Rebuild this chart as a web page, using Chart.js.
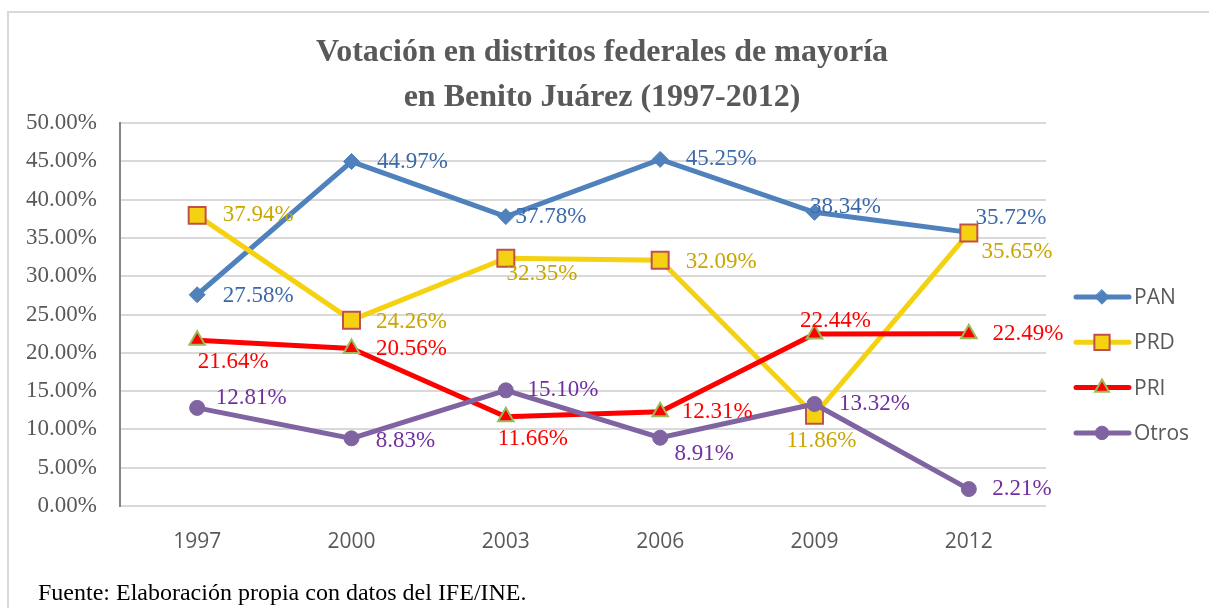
<!DOCTYPE html>
<html>
<head>
<meta charset="utf-8">
<script src="https://cdn.jsdelivr.net/npm/chart.js@4"></script>
<style>
html, body { margin: 0; padding: 0; background: #fff; overflow: hidden; }
canvas { display: block; }
</style>
</head>
<body>
<canvas id="myChart" width="1209" height="608"></canvas>
<script>
// datos
const years = ['1997', '2000', '2003', '2006', '2009', '2012'];
const pan = [27.58, 44.97, 37.78, 45.25, 38.34, 35.72];
const prd = [37.94, 24.26, 32.35, 32.09, 11.86, 35.65];
const pri = [21.64, 20.56, 11.66, 12.31, 22.44, 22.49];
const otros = [12.81, 8.83, 15.10, 8.91, 13.32, 2.21];
const yMax = 50;
const yStep = 5;

// decalage des etiquettes (centre du texte par rapport au point)
const labelOffsets = [
    [[61, 1], [61, 0], [45, 0], [61, 0], [31, -5], [42, -14]],
    [[61, 0], [60, 2], [36, 16], [61, 2], [7, 26], [48, 19]],
    [[36, 22], [60, 0], [27, 22], [57, 0], [21, -13], [59, 0]],
    [[54, -10], [54, 3], [57, 0], [44, 16], [60, 0], [53, 0]]
];
const labelColors = ['#3C69A8', '#C9A600', '#FF0000', '#7030A0'];

const serif = '"Liberation Serif", "Times New Roman", serif';
const sans = '"Open Sans", "Liberation Sans", sans-serif';

function marker(ctx, style, x, y) {
    ctx.save();
    ctx.beginPath();
    if (style.type === 'rectRot') {
        const r = style.radius;
        ctx.moveTo(x, y - r); ctx.lineTo(x + r, y); ctx.lineTo(x, y + r); ctx.lineTo(x - r, y);
        ctx.closePath();
    } else if (style.type === 'rect') {
        const s = style.radius * Math.SQRT1_2;
        ctx.rect(x - s, y - s, 2 * s, 2 * s);
    } else if (style.type === 'triangle') {
        const r = style.radius;
        ctx.moveTo(x, y - r);
        ctx.lineTo(x + r * Math.sin(2 * Math.PI / 3), y - r * Math.cos(2 * Math.PI / 3));
        ctx.lineTo(x + r * Math.sin(4 * Math.PI / 3), y - r * Math.cos(4 * Math.PI / 3));
        ctx.closePath();
    } else {
        ctx.arc(x, y, style.radius, 0, Math.PI * 2);
    }
    ctx.fillStyle = style.fill;
    ctx.fill();
    ctx.lineWidth = style.borderWidth;
    ctx.strokeStyle = style.border;
    ctx.stroke();
    ctx.restore();
}

const extras = {
    id: 'extras',
    beforeDraw(chart) {
        const ctx = chart.ctx;
        ctx.save();
        ctx.fillStyle = '#fff';
        ctx.fillRect(0, 0, chart.width, chart.height);
        ctx.strokeStyle = '#d9d9d9';
        ctx.lineWidth = 2;
        ctx.strokeRect(8, 12, 1300, 700);
        ctx.restore();
    },
    afterDatasetsDraw(chart) {
        const ctx = chart.ctx;
        ctx.save();
        ctx.font = '23px ' + serif;
        ctx.textAlign = 'center';
        ctx.textBaseline = 'middle';
        chart.data.datasets.forEach((ds, i) => {
            const meta = chart.getDatasetMeta(i);
            meta.data.forEach((pt, j) => {
                const off = labelOffsets[i][j];
                ctx.fillStyle = labelColors[i];
                ctx.fillText(ds.data[j].toFixed(2) + '%', pt.x + off[0], pt.y + off[1]);
            });
        });
        ctx.restore();
    },
    afterDraw(chart) {
        const ctx = chart.ctx;
        ctx.save();
        // titre
        ctx.fillStyle = '#595959';
        ctx.font = 'bold 32px ' + serif;
        ctx.textAlign = 'center';
        ctx.textBaseline = 'middle';
        ctx.fillText('Votación en distritos federales de mayoría', 602, 53);
        ctx.fillText('en Benito Juárez (1997-2012)', 602, 98);
        // legende
        chart.data.datasets.forEach((ds, i) => {
            const y = 297 + i * 45.3;
            ctx.strokeStyle = ds.borderColor;
            ctx.lineWidth = 5;
            ctx.lineCap = 'round';
            ctx.beginPath();
            ctx.moveTo(1076, y);
            ctx.lineTo(1129, y);
            ctx.stroke();
            marker(ctx, {
                type: ds.pointStyle, radius: ds.pointRadius * 0.9,
                fill: ds.pointBackgroundColor, border: ds.pointBorderColor,
                borderWidth: ds.pointBorderWidth
            }, 1102, y);
            ctx.fillStyle = '#595959';
            ctx.font = '21px ' + sans;
            ctx.textAlign = 'left';
            ctx.fillText(ds.label, 1134, y + 1);
        });
        // source
        ctx.fillStyle = '#000';
        ctx.font = '24px ' + serif;
        ctx.textAlign = 'left';
        ctx.fillText('Fuente: Elaboración propia con datos del IFE/INE.', 38, 594);
        ctx.restore();
    }
};

function serie(label, data, color, style, radius, fill, border, bw, order) {
    return {
        label: label,
        data: data,
        borderColor: color,
        backgroundColor: color,
        borderWidth: 5,
        tension: 0,
        pointStyle: style,
        pointRadius: radius,
        pointHoverRadius: radius,
        pointBackgroundColor: fill,
        pointBorderColor: border,
        pointBorderWidth: bw,
        order: order
    };
}

var ctx = document.getElementById('myChart').getContext('2d');
var myChart = new Chart(ctx, {
    type: 'line',
    data: {
        labels: years,
        datasets: [
            serie('PAN', pan, '#4F81BD', 'rectRot', 8, '#4F81BD', '#4F81BD', 1, 4),
            serie('PRD', prd, '#F5D211', 'rect', 12, '#F5D211', '#C0504D', 2, 3),
            serie('PRI', pri, '#FF0000', 'triangle', 9, '#FF0000', '#9BBB59', 2, 2),
            serie('Otros', otros, '#8064A2', 'circle', 7.5, '#8064A2', '#8064A2', 1, 1)
        ]
    },
    options: {
        responsive: false,
        animation: false,
        devicePixelRatio: 1,
        layout: { padding: { left: 0, right: 163, top: 123, bottom: 52 } },
        plugins: {
            legend: { display: false },
            title: { display: false },
            tooltip: { enabled: false }
        },
        scales: {
            x: {
                offset: true,
                grid: { display: false },
                border: { display: false },
                ticks: {
                    color: '#595959',
                    font: { family: sans, size: 21 },
                    padding: 15
                },
                afterFit: s => { s.height = 50; }
            },
            y: {
                min: 0,
                max: yMax,
                grid: { color: '#d9d9d9', lineWidth: 2, drawTicks: false },
                border: { display: true, color: '#868686', width: 2 },
                ticks: {
                    stepSize: yStep,
                    color: '#595959',
                    font: { family: serif, size: 23 },
                    padding: 23,
                    callback: v => v.toFixed(2) + '%'
                },
                afterFit: s => { s.width = 120; }
            }
        }
    },
    plugins: [extras]
});
</script>
</body>
</html>
